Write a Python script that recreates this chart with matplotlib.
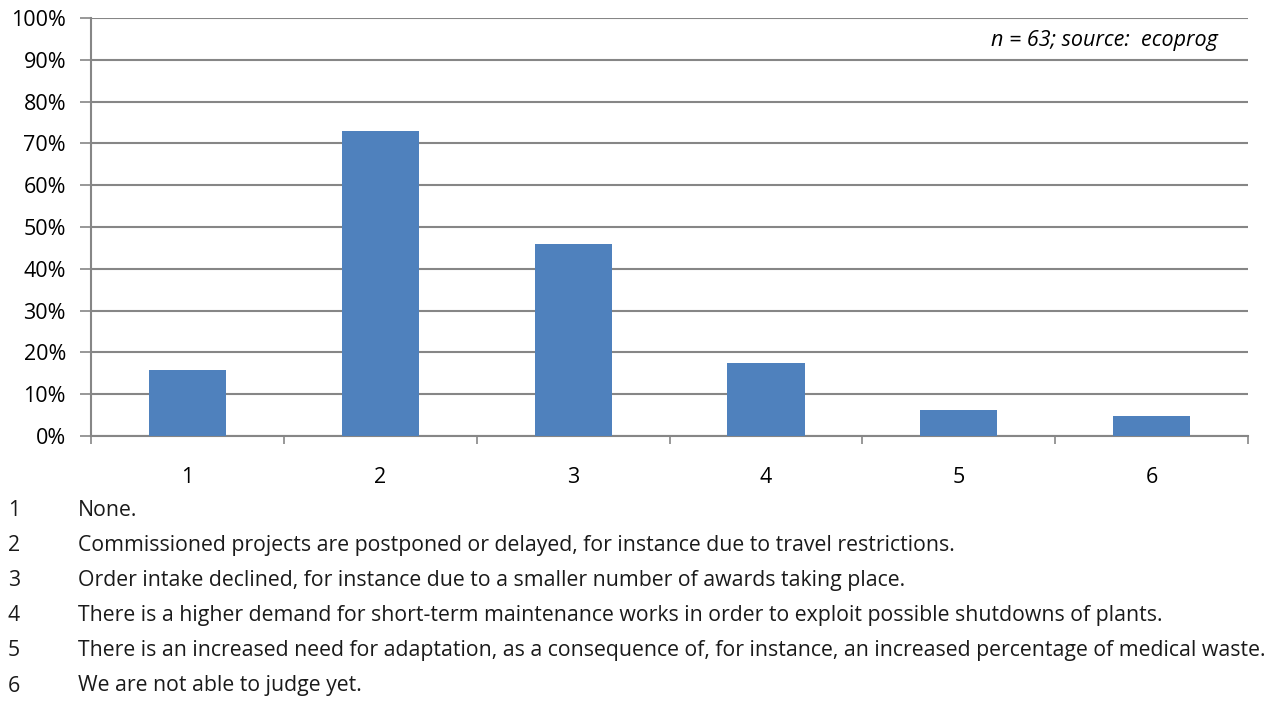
import numpy as np
import matplotlib.pyplot as plt
from matplotlib.ticker import PercentFormatter

# answer categories and share of respondents (n = 63)
categories = ["1", "2", "3", "4", "5", "6"]
shares = [15.9, 73.0, 46.0, 17.5, 6.3, 4.8]
answers = [
    "None.",
    "Commissioned projects are postponed or delayed, for instance due to travel restrictions.",
    "Order intake declined, for instance due to a smaller number of awards taking place.",
    "There is a higher demand for short-term maintenance works in order to exploit possible shutdowns of plants.",
    "There is an increased need for adaptation, as a consequence of, for instance, an increased percentage of medical waste.",
    "We are not able to judge yet.",
]
note = "n = 63; source:  ecoprog"


def main():
    plt.rcParams['font.family'] = ['Open Sans', 'DejaVu Sans']
    fig = plt.figure(figsize=(12.84, 7.06), dpi=100)
    ax = fig.add_axes([0.0709, 0.3824, 0.9011, 0.5921])

    x = np.arange(len(categories))
    grid_col = "#868686"
    ax.bar(x, shares, width=0.4, color="#4F81BD", zorder=3)

    ax.set_ylim(0, 100)
    ax.set_xlim(-0.5, len(categories) - 0.5)
    ax.set_yticks(np.arange(0, 101, 10))
    ax.yaxis.set_major_formatter(PercentFormatter(decimals=0))
    ax.yaxis.grid(True, color=grid_col, linewidth=1.5, zorder=0)

    # labels in the middle, tick marks between the categories
    ax.set_xticks(x)
    ax.set_xticklabels(categories)
    ax.set_xticks(np.arange(-0.5, len(categories)), minor=True)
    ax.tick_params(axis='x', which='major', length=0, pad=22, labelsize=15.5)
    ax.tick_params(axis='x', which='minor', length=6, width=1.2, color=grid_col)
    ax.tick_params(axis='y', length=8, width=1.2, color=grid_col, labelsize=15.5, pad=10)

    for s in ['top', 'right']:
        ax.spines[s].set_visible(False)
    for s in ['left', 'bottom']:
        ax.spines[s].set_color(grid_col)
        ax.spines[s].set_linewidth(1.5)

    ax.text(0.974, 0.947, note, transform=ax.transAxes, ha='right', va='center',
            fontsize=15.5, style='italic')

    # key of the answers below the chart
    y0 = 1 - 510 / 706
    step = 35.2 / 706
    for i, (c, a) in enumerate(zip(categories, answers)):
        y = y0 - i * step
        fig.text(8 / 1284, y, c, fontsize=15.3, va='center', color="#1a1a1a")
        fig.text(78 / 1284, y, a, fontsize=15.3, va='center', color="#1a1a1a")

    fig.savefig("out.png", dpi=100)


if __name__ == '__main__':
    main()
